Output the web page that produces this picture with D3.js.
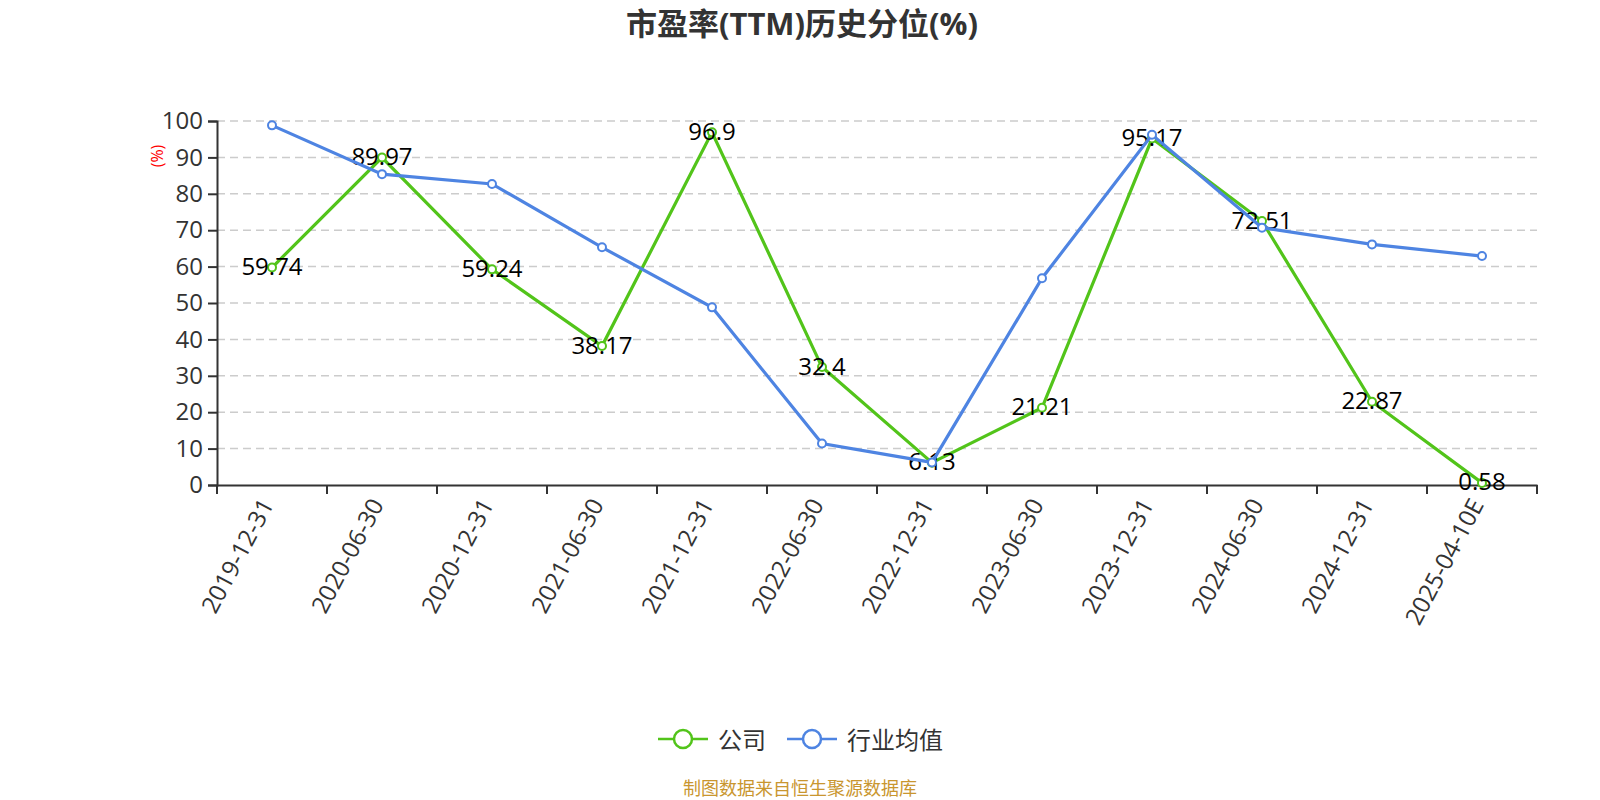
<!DOCTYPE html>
<html>
<head>
<meta charset="utf-8">
<script src="https://cdn.jsdelivr.net/npm/d3@7"></script>
<style>
  body { margin: 0; background: #fff; }
  text { font-family: "Open Sans", "Noto Sans CJK SC", sans-serif; }
</style>
</head>
<body>
<div id="chart"></div>
<script>
var w = 1600;
var h = 800;

// data
var categories = ["2019-12-31", "2020-06-30", "2020-12-31", "2021-06-30", "2021-12-31", "2022-06-30",
                  "2022-12-31", "2023-06-30", "2023-12-31", "2024-06-30", "2024-12-31", "2025-04-10E"];
var company = [59.74, 89.97, 59.24, 38.17, 96.9, 32.4, 6.13, 21.21, 95.17, 72.51, 22.87, 0.58];
var industry = [98.8, 85.4, 82.7, 65.3, 48.8, 11.4, 6.2, 56.8, 96.2, 70.7, 66.1, 62.9];
var yTicks = [0, 10, 20, 30, 40, 50, 60, 70, 80, 90, 100];

var green = "#52c41a";
var blue = "#4e84e2";

var margin = {left: 217, right: 63, top: 121, bottom: 315};

var svg = d3.select("#chart")
            .append("svg")
            .attr("width", w)
            .attr("height", h);

var x = d3.scaleBand()
          .domain(categories)
          .range([margin.left, w - margin.right]);

var y = d3.scaleLinear()
          .domain([0, 100])
          .range([h - margin.bottom, margin.top]);

// title
svg.append("text")
   .attr("x", 802)
   .attr("y", 23)
   .attr("text-anchor", "middle")
   .attr("dominant-baseline", "central")
   .attr("font-size", "31px")
   .attr("font-weight", "bold")
   .attr("fill", "#333")
   .text("市盈率(TTM)历史分位(%)");

// grid lines
svg.append("g")
   .selectAll("line")
   .data(yTicks.filter(function(d) { return d > 0; }))
   .enter()
   .append("line")
   .attr("x1", margin.left)
   .attr("x2", w - margin.right)
   .attr("y1", function(d) { return y(d); })
   .attr("y2", function(d) { return y(d); })
   .attr("stroke", "#ccc")
   .attr("stroke-width", 1.5)
   .attr("stroke-dasharray", "8,5");

// y axis
var yAxis = svg.append("g")
   .attr("transform", "translate(" + margin.left + ",0)")
   .call(d3.axisLeft(y).tickValues(yTicks).tickSize(9).tickPadding(5));
yAxis.select(".domain").attr("stroke", "#333").attr("stroke-width", 2);
yAxis.selectAll(".tick line").attr("stroke", "#333").attr("stroke-width", 2);
yAxis.selectAll(".tick text")
     .attr("font-size", "24px")
     .attr("fill", "#333")
     .attr("font-family", "'Open Sans', sans-serif");

// y axis name
svg.append("text")
   .attr("transform", "translate(157,156) rotate(-90)")
   .attr("text-anchor", "middle")
   .attr("dominant-baseline", "central")
   .attr("font-size", "16px")
   .attr("fill", "red")
   .text("(%)");

// x axis
var xAxis = svg.append("g")
   .attr("transform", "translate(0," + (h - margin.bottom) + ")")
   .call(d3.axisBottom(x).tickSize(0).tickFormat(""));
xAxis.select(".domain").attr("stroke", "#333").attr("stroke-width", 2);

var bounds = categories.map(function(d) { return x(d); });
bounds.push(x(categories[categories.length - 1]) + x.bandwidth());
xAxis.selectAll(".bt")
     .data(bounds)
     .enter()
     .append("line")
     .attr("x1", function(d) { return d; })
     .attr("x2", function(d) { return d; })
     .attr("y1", 0)
     .attr("y2", 9)
     .attr("stroke", "#333")
     .attr("stroke-width", 2);

xAxis.selectAll(".xl")
     .data(categories)
     .enter()
     .append("text")
     .attr("transform", function(d) {
        return "translate(" + (x(d) + x.bandwidth() / 2 - 6) + ",15) rotate(-62)";
     })
     .attr("text-anchor", "end")
     .attr("dominant-baseline", "central")
     .attr("font-size", "24px")
     .attr("fill", "#333")
     .text(function(d) { return d; });

var cx = function(d, i) { return x(categories[i]) + x.bandwidth() / 2; };

var line = d3.line()
             .x(cx)
             .y(function(d) { return y(d); });

// company series
svg.append("path")
   .datum(company)
   .attr("d", line)
   .attr("fill", "none")
   .attr("stroke", green)
   .attr("stroke-width", 3.2);

svg.append("g")
   .selectAll("circle")
   .data(company)
   .enter()
   .append("circle")
   .attr("cx", cx)
   .attr("cy", function(d) { return y(d); })
   .attr("r", 4)
   .attr("fill", "#fff")
   .attr("stroke", green)
   .attr("stroke-width", 2);

svg.append("g")
   .selectAll("text")
   .data(company)
   .enter()
   .append("text")
   .attr("x", cx)
   .attr("y", function(d) { return y(d) - 2; })
   .attr("text-anchor", "middle")
   .attr("dominant-baseline", "central")
   .attr("font-size", "24px")
   .attr("fill", "#000")
   .text(function(d) { return d; });

// industry series
svg.append("path")
   .datum(industry)
   .attr("d", line)
   .attr("fill", "none")
   .attr("stroke", blue)
   .attr("stroke-width", 3.2);

svg.append("g")
   .selectAll("circle")
   .data(industry)
   .enter()
   .append("circle")
   .attr("cx", cx)
   .attr("cy", function(d) { return y(d); })
   .attr("r", 4)
   .attr("fill", "#fff")
   .attr("stroke", blue)
   .attr("stroke-width", 2);

// legend
var legend = [{name: "公司", color: green, x: 658}, {name: "行业均值", color: blue, x: 787}];
var lg = svg.append("g")
   .selectAll("g")
   .data(legend)
   .enter()
   .append("g")
   .attr("transform", function(d) { return "translate(" + d.x + ",739)"; });
lg.append("line")
  .attr("x1", 0).attr("x2", 50)
  .attr("y1", 0).attr("y2", 0)
  .attr("stroke", function(d) { return d.color; })
  .attr("stroke-width", 2.5);
lg.append("circle")
  .attr("cx", 25).attr("cy", 0).attr("r", 9)
  .attr("fill", "#fff")
  .attr("stroke", function(d) { return d.color; })
  .attr("stroke-width", 2.5);
lg.append("text")
  .attr("x", 60)
  .attr("y", 0)
  .attr("dominant-baseline", "central")
  .attr("font-size", "24px")
  .attr("fill", "#333")
  .text(function(d) { return d.name; });

// source note
svg.append("text")
   .attr("x", 800)
   .attr("y", 788)
   .attr("text-anchor", "middle")
   .attr("dominant-baseline", "central")
   .attr("font-size", "18px")
   .attr("fill", "#c9962f")
   .text("制图数据来自恒生聚源数据库");
</script>
</body>
</html>
